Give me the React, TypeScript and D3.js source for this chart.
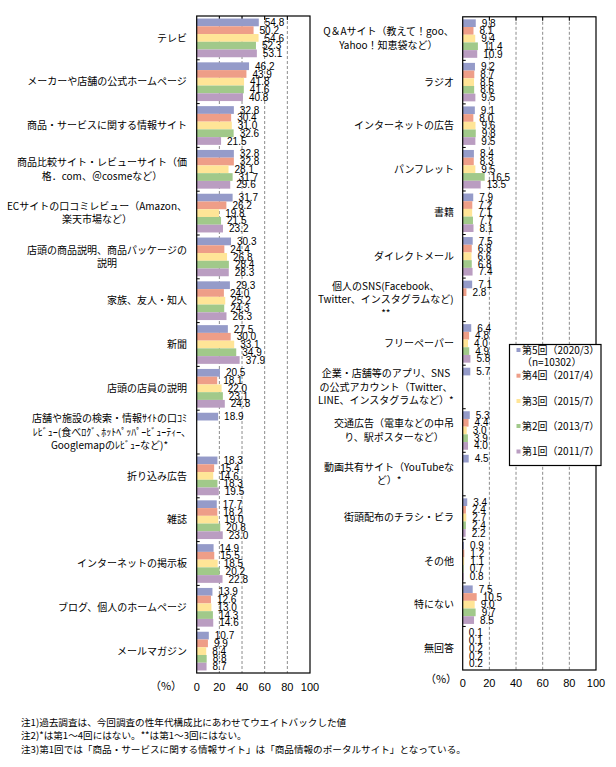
import React from 'react';
import * as d3 from 'd3';

const seriesNames = ['第5回（2020/3）', '第4回（2017/4）', '第3回（2015/7）', '第2回（2013/7）', '第1回（2011/7）'];
const seriesSub = '（n=10302）';
const seriesColors = ['#959BC9', '#EE9E88', '#FFE597', '#A1C98A', '#BA9DC1'];

const leftCategories: string[][] = [
  ['テレビ'],
  ['メーカーや店舗の公式ホームページ'],
  ['商品・サービスに関する情報サイト'],
  ['商品比較サイト・レビューサイト（価', '格．com、＠cosmeなど）'],
  ['ECサイトの口コミレビュー（Amazon、', '楽天市場など）'],
  ['店頭の商品説明、商品パッケージの', '説明'],
  ['家族、友人・知人'],
  ['新聞'],
  ['店頭の店員の説明'],
  ['店舗や施設の検索・情報ｻｲﾄの口ｺﾐ', 'ﾚﾋﾞｭｰ(食べﾛｸﾞ､ﾎｯﾄﾍﾟｯﾊﾟｰﾋﾞｭｰﾃｨｰ､', 'Googlemapのﾚﾋﾞｭｰなど)*'],
  ['折り込み広告'],
  ['雑誌'],
  ['インターネットの掲示板'],
  ['ブログ、個人のホームページ'],
  ['メールマガジン'],
];
const leftValues: (number | null)[][] = [
  [54.8, 50.2, 54.6, 52.3, 53.1],
  [46.2, 43.9, 41.8, 41.6, 40.8],
  [32.8, 30.4, 31.0, 32.6, 21.5],
  [32.8, 32.8, 28.1, 31.7, 29.6],
  [31.7, 26.2, 19.8, 21.5, 23.2],
  [30.3, 24.4, 26.8, 28.4, 28.3],
  [29.3, 24.0, 25.2, 24.3, 26.3],
  [27.5, 30.0, 33.1, 34.9, 37.9],
  [20.5, 18.1, 22.0, 23.1, 24.8],
  [18.9, null, null, null, null],
  [18.3, 15.4, 14.6, 18.3, 19.5],
  [17.7, 18.2, 19.0, 20.8, 23.0],
  [14.9, 15.5, 18.5, 20.2, 22.8],
  [13.9, 12.6, 13.0, 14.3, 14.6],
  [10.7, 9.9, 8.4, 8.8, 8.7],
];

const rightCategories: string[][] = [
  ['Q＆Aサイト（教えて！goo、', 'Yahoo！知恵袋など）'],
  ['ラジオ'],
  ['インターネットの広告'],
  ['パンフレット'],
  ['書籍'],
  ['ダイレクトメール'],
  ['個人のSNS(Facebook、', 'Twitter、インスタグラムなど)', '**'],
  ['フリーペーパー'],
  ['企業・店舗等のアプリ、SNS', 'の公式アカウント（Twitter、', 'LINE、インスタグラムなど）*'],
  ['交通広告（電車などの中吊', 'り、駅ポスターなど）'],
  ['動画共有サイト（YouTubeな', 'ど）*'],
  ['街頭配布のチラシ・ビラ'],
  ['その他'],
  ['特にない'],
  ['無回答'],
];
const rightValues: (number | null)[][] = [
  [9.8, 8.1, 9.4, 11.4, 10.9],
  [9.2, 8.7, 8.5, 8.6, 9.5],
  [9.1, 8.0, 9.6, 9.8, 9.5],
  [8.4, 8.3, 9.5, 16.5, 13.5],
  [7.9, 7.2, 7.1, 7.7, 8.1],
  [7.5, 6.8, 6.6, 6.8, 7.4],
  [7.1, 2.8, null, null, null],
  [6.4, 4.8, 4.0, 4.9, 5.8],
  [5.7, null, null, null, null],
  [5.3, 4.4, 3.0, 3.9, 4.0],
  [4.5, null, null, null, null],
  [3.4, 2.4, 2.7, 2.4, 2.2],
  [0.9, 1.2, 1.1, 0.7, 0.8],
  [7.5, 10.5, 9.0, 9.7, 8.5],
  [0.1, 0.1, 0.2, 0.2, 0.2],
];

const xTicks = [0, 20, 40, 60, 80, 100];
const unitLabel = '（%）';
const notes = [
  '注1)過去調査は、今回調査の性年代構成比にあわせてウエイトバックした値',
  '注2)*は第1～4回にはない。**は第1～3回にはない。',
  '注3)第1回では「商品・サービスに関する情報サイト」は「商品情報のポータルサイト」となっている。',
];

const JP = '"Noto Sans CJK JP", sans-serif';
const NUM = '"Liberation Sans", Arial, sans-serif';
const CAT_FS = 10;

let canvasCtx: CanvasRenderingContext2D | null = null;
function measure(text: string, font: string): number {
  if (typeof document === 'undefined') return text.length * 8;
  if (!canvasCtx) canvasCtx = document.createElement('canvas').getContext('2d');
  if (!canvasCtx) return text.length * 8;
  canvasCtx.font = font;
  return canvasCtx.measureText(text).width;
}

type PanelProps = {
  cats: string[][];
  vals: (number | null)[][];
  x0: number; x1: number; y0: number; y1: number;
  labelRight: number;
  tickY: number;
  pctX: number; pctY: number;
};

function Panel({ cats, vals, x0, x1, y0, y1, labelRight, tickY, pctX, pctY }: PanelProps) {
  const x = d3.scaleLinear().domain([0, 100]).range([x0, x1]);
  const idx = cats.map((_, i) => String(i));
  const y = d3.scaleBand<string>().domain(idx).range([y0, y1]).paddingInner(0.116).paddingOuter(0.058);
  const inner = d3.scaleBand<string>().domain(seriesNames).range([0, y.bandwidth()]);
  const step = y.step();
  const lineH = 13.5;
  return (
    <g>
      {/* gridlines */}
      {xTicks.filter(t => t > 0 && t < 100).map(t => (
        <line key={'g' + t} x1={x(t)} x2={x(t)} y1={y0} y2={y1} stroke="#8c8c8c" strokeWidth={1} strokeDasharray="3,2" />
      ))}
      {/* top ticks */}
      {xTicks.filter(t => t > 0 && t < 100).map(t => (
        <line key={'tt' + t} x1={x(t)} x2={x(t)} y1={y0} y2={y0 + 4} stroke="#000" strokeWidth={1} />
      ))}
      {/* bars */}
      {vals.map((row, i) => row.map((v, j) => v == null ? null : (
        <rect key={`b${i}-${j}`} x={x(0)} y={(y(String(i)) as number) + (inner(seriesNames[j]) as number)}
          width={x(v) - x(0)} height={inner.bandwidth()} fill={seriesColors[j]} />
      )))}
      {/* value labels */}
      {vals.map((row, i) => row.map((v, j) => v == null ? null : (
        <text key={`l${i}-${j}`} x={x(v) + 6} y={(y(String(i)) as number) + (inner(seriesNames[j]) as number) + inner.bandwidth() / 2}
          dy="0.36em" fontFamily={NUM} fontSize={10} fill="#000">{v.toFixed(1)}</text>
      )))}
      {/* frame */}
      <rect x={x0} y={y0} width={x1 - x0} height={y1 - y0} fill="none" stroke="#000" strokeWidth={1.2} />
      {/* category tick marks */}
      {d3.range(1, cats.length).map(k => (
        <line key={'ct' + k} x1={x0} x2={x0 + 3} y1={y0 + k * step} y2={y0 + k * step} stroke="#000" strokeWidth={1} />
      ))}
      {/* category labels */}
      {cats.map((lines, i) => {
        const cy = (y(String(i)) as number) + y.bandwidth() / 2;
        const w = Math.max(...lines.map(l => measure(l, `${CAT_FS}px ${JP}`)));
        const cx = labelRight - w / 2;
        const startY = cy - ((lines.length - 1) * lineH) / 2;
        return (
          <text key={'c' + i} fontFamily={JP} fontSize={CAT_FS} fill="#000" textAnchor="middle">
            {lines.map((l, k) => (
              <tspan key={k} x={cx} y={startY + k * lineH} dy="0.36em">{l}</tspan>
            ))}
          </text>
        );
      })}
      {/* x tick labels */}
      {xTicks.map(t => (
        <text key={'xl' + t} x={x(t)} y={tickY} dy="0.36em" textAnchor="middle" fontFamily={NUM} fontSize={11} fill="#000">{t}</text>
      ))}
      <text x={pctX} y={pctY} dy="0.36em" textAnchor="middle" fontFamily={JP} fontSize={11} fill="#000">{unitLabel}</text>
    </g>
  );
}

function Legend() {
  const bx = 509.5, by = 344.5, bw = 91.5, bh = 121;
  const rowsY = [350, 375.7, 401, 426, 451.5];
  return (
    <g>
      <rect x={bx} y={by} width={bw} height={bh} fill="#fff" stroke="#000" strokeWidth={1.2} />
      {seriesNames.map((s, i) => (
        <g key={s}>
          <rect x={516.5} y={rowsY[i] - 2} width={4} height={4} fill={seriesColors[i]} />
          <text x={522} y={rowsY[i]} dy="0.36em" fontFamily={JP} fontSize={10} fill="#000">{s}</text>
        </g>
      ))}
      <text x={522} y={362.5} dy="0.36em" fontFamily={JP} fontSize={10} fill="#000">{seriesSub}</text>
    </g>
  );
}

export default function App() {
  return (
    <div style={{ position: 'absolute', left: 0, top: 0, width: 616, height: 767, background: '#fff' }}>
      <svg width={616} height={767} viewBox="0 0 616 767" style={{ display: 'block' }}>
        <rect x={0} y={0} width={616} height={767} fill="#fff" />
        <Panel cats={leftCategories} vals={leftValues} x0={196.7} x1={310} y0={16} y1={673}
          labelRight={187} tickY={687} pctX={166} pctY={686} />
        <Panel cats={rightCategories} vals={rightValues} x0={462.7} x1={596} y0={16.8} y1={670}
          labelRight={454} tickY={683} pctX={441} pctY={679.5} />
        <Legend />
        {notes.map((n, i) => (
          <text key={i} x={21} y={722.5 + i * 13.5} dy="0.36em" fontFamily={JP} fontSize={9.6} fill="#000">{n}</text>
        ))}
      </svg>
    </div>
  );
}
